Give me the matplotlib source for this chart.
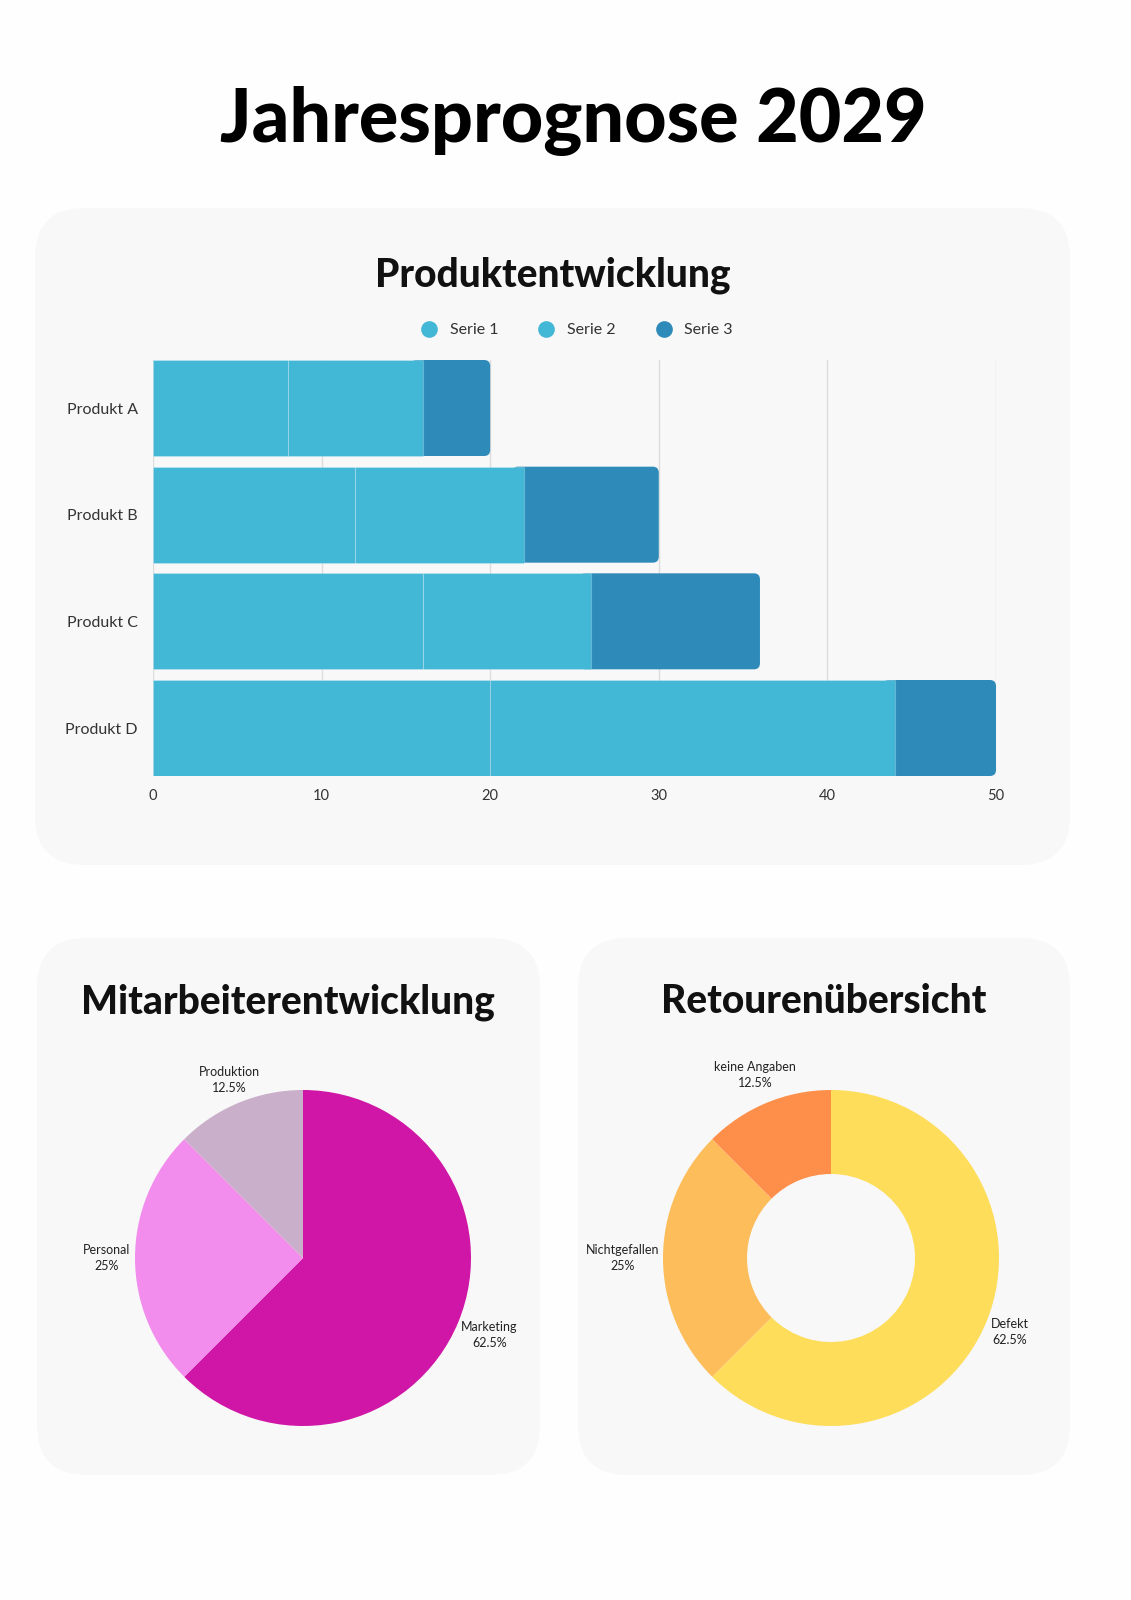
import matplotlib
matplotlib.use("Agg")
import matplotlib.pyplot as plt
from matplotlib.patches import FancyBboxPatch
from matplotlib.lines import Line2D

plt.rcParams['font.family'] = ['Lato', 'DejaVu Sans']

# data
produkte = ["Produkt A", "Produkt B", "Produkt C", "Produkt D"]
serie1 = [8, 12, 16, 20]
serie2 = [8, 10, 10, 24]
serie3 = [4, 8, 10, 6]
serien_namen = ["Serie 1", "Serie 2", "Serie 3"]
x_ticks = [0, 10, 20, 30, 40, 50]

mitarbeiter_labels = ["Marketing", "Personal", "Produktion"]
mitarbeiter_werte = [62.5, 25, 12.5]

retouren_labels = ["Defekt", "Nichtgefallen", "keine Angaben"]
retouren_werte = [62.5, 25, 12.5]

bar_colors = ["#42b7d6", "#42b7d6", "#2e8bb9"]
pie_colors = ["#d016a6", "#f28ded", "#c9afc9"]
donut_colors = ["#fedd5a", "#fdbd5a", "#fe8f4a"]

W, H = 1131, 1600
fig = plt.figure(figsize=(W / 100, H / 100), dpi=100)
fig.patch.set_facecolor("#fefefe")


def fig_rect(x0, y0, x1, y1):
    # pixel box (top-left origin) -> figure fraction
    return [x0 / W, 1 - y1 / H, (x1 - x0) / W, (y1 - y0) / H]


# background panels
bg = fig.add_axes([0, 0, 1, 1])
bg.set_xlim(0, W)
bg.set_ylim(H, 0)
bg.axis("off")
for (x0, y0, x1, y1) in [(35, 208, 1070, 865), (37, 938, 540, 1475), (578, 938, 1070, 1475)]:
    bg.add_patch(FancyBboxPatch((x0, y0), x1 - x0, y1 - y0,
                                boxstyle="round,pad=0,rounding_size=50",
                                facecolor="#f8f8f8", edgecolor="none"))

fig.text(573 / W, 1 - 142 / H, "Jahresprognose 2029", ha="center", va="baseline",
         fontsize=53, fontweight="black", color="#000000")
fig.text(553 / W, 1 - 286 / H, "Produktentwicklung", ha="center", va="baseline",
         fontsize=28, fontweight="black", color="#111111")
fig.text(288 / W, 1 - 1013 / H, "Mitarbeiterentwicklung", ha="center", va="baseline",
         fontsize=28, fontweight="black", color="#111111")
fig.text(824 / W, 1 - 1013 / H, "Retourenübersicht", ha="center", va="baseline",
         fontsize=28, fontweight="black", color="#111111")

# stacked bars
ax = fig.add_axes(fig_rect(153, 360, 996, 776))
ax.set_facecolor("none")
bh = 0.9
ypos = list(range(len(produkte)))
sep = (1, 1, 1, 0.22)
ax.barh(ypos, serie1, height=bh, color=bar_colors[0], edgecolor=sep, linewidth=0.8, zorder=3)
left2 = serie1
ax.barh(ypos, serie2, left=left2, height=bh, color=bar_colors[1], edgecolor=sep, linewidth=0.8, zorder=3)
left3 = [a + b for a, b in zip(serie1, serie2)]
bars3 = ax.barh(ypos, serie3, left=left3, height=bh, color=bar_colors[2], linewidth=0, zorder=2)
# round the right end of each stack: the rounded box starts a bit to the left,
# so its left corners are hidden under serie 2
px_x = (996 - 153) / 50
px_y = (776 - 360) / 4.0
rad = 6 / px_x
for p in bars3:
    x, y, w, h = p.get_x(), p.get_y(), p.get_width(), p.get_height()
    p.set_visible(False)
    ax.add_patch(FancyBboxPatch((x - 2 * rad, y), w + 2 * rad, h,
                                boxstyle="round,pad=0,rounding_size=%f" % rad,
                                mutation_aspect=px_x / px_y,
                                facecolor=bar_colors[2], edgecolor="none", zorder=2))

ax.set_xlim(0, 50)
ax.set_ylim(len(produkte) - 0.5 - (1 - bh) / 2, -0.5 + (1 - bh) / 2)
ax.set_xticks(x_ticks)
ax.set_xticklabels([str(t) for t in x_ticks], fontsize=10.5, color="#333333")
ax.set_yticks(ypos)
ax.set_yticklabels(produkte, fontsize=11.5, color="#333333")
ax.tick_params(axis="both", length=0, pad=9)
ax.tick_params(axis="y", pad=11)
ax.grid(axis="x", color="#dddddd", linewidth=1, zorder=0)
ax.set_axisbelow(True)
for s in ax.spines.values():
    s.set_visible(False)

handles = [Line2D([], [], marker="o", linestyle="none", markersize=12,
                  markerfacecolor=c, markeredgecolor="none") for c in bar_colors]
fig.legend(handles, serien_namen, loc="center", bbox_to_anchor=(573 / W, 1 - 330 / H),
           ncol=3, frameon=False, fontsize=11.5, handletextpad=0.3, columnspacing=2.0,
           labelcolor="#333333")

r_px = 168
lim = 1.5
txt_style = dict(fontsize=9, color="#222222", ha="center", va="center", linespacing=1.4)


def place_labels(texts, dists):
    for t, d in zip(texts, dists):
        x, y = t.get_position()
        n = (x ** 2 + y ** 2) ** 0.5
        t.set_position((x / n * d, y / n * d))


# pie chart
ax_pie = fig.add_axes(fig_rect(303 - r_px * lim, 1258 - r_px * lim, 303 + r_px * lim, 1258 + r_px * lim))
_, t_pie = ax_pie.pie(mitarbeiter_werte, colors=pie_colors, startangle=90, counterclock=False,
                      labels=[f"{l}\n{v:g}%" for l, v in zip(mitarbeiter_labels, mitarbeiter_werte)],
                      labeldistance=1.17, textprops=txt_style, wedgeprops=dict(linewidth=0))
place_labels(t_pie, [1.2, 1.17, 1.15])
ax_pie.set_xlim(-lim, lim)
ax_pie.set_ylim(-lim, lim)
ax_pie.set_aspect("equal")
ax_pie.axis("off")

# donut chart
ax_don = fig.add_axes(fig_rect(831 - r_px * lim, 1258 - r_px * lim, 831 + r_px * lim, 1258 + r_px * lim))
_, t_don = ax_don.pie(retouren_werte, colors=donut_colors, startangle=90, counterclock=False,
                      labels=[f"{l}\n{v:g}%" for l, v in zip(retouren_labels, retouren_werte)],
                      labeldistance=1.19, textprops=txt_style, wedgeprops=dict(width=0.5, linewidth=0))
place_labels(t_don, [1.15, 1.24, 1.18])
ax_don.set_xlim(-lim, lim)
ax_don.set_ylim(-lim, lim)
ax_don.set_aspect("equal")
ax_don.axis("off")

fig.savefig("out.png", dpi=100, facecolor=fig.get_facecolor())
